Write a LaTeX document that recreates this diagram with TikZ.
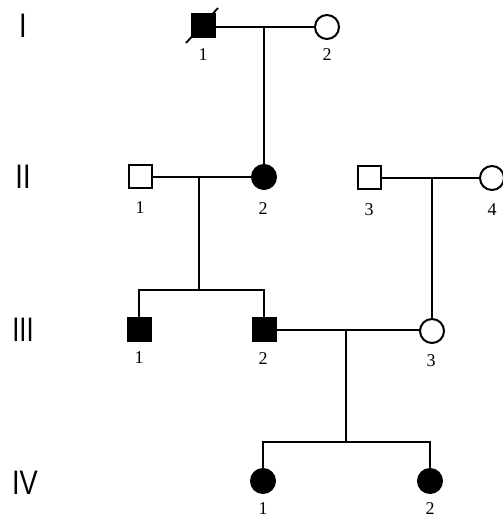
\documentclass[tikz,border=0pt]{standalone}
\usepackage{fontspec}
\setmainfont{Liberation Serif}
\newfontfamily\genfont{Liberation Sans}
\usetikzlibrary{calc}
\begin{document}
\begin{tikzpicture}[x=1pt,y=-1pt,
  male/.style={draw, rectangle, line width=2pt, minimum size=23pt, inner sep=0pt, fill=white},
  female/.style={draw, circle, line width=2pt, minimum size=24pt, inner sep=0pt, fill=white},
  aff/.style={fill=black},
  rel/.style={line width=2.4pt},
  num/.style={font=\fontsize{18}{18}\selectfont, inner sep=0pt},
  gen/.style={font=\genfont\fontsize{34}{34}\selectfont, inner sep=0pt}
]
\useasboundingbox[fill=white] (0,0) rectangle (502,518);

% generation labels
\node[gen] (gI)   at (23,26)  {\scalebox{0.8}[1]{I}};
\node[gen] (gII)  at (23,177) {\scalebox{0.8}[1]{II}};
\node[gen] (gIII) at (23,330) {\scalebox{0.75}[1]{III}};
\node[gen] (gIV)  at (25,483) {\scalebox{0.8}[1]{IV}};

% coordinates for connectors
\coordinate (mI)   at (264,27);
\coordinate (mII)  at (199,177);
\coordinate (sII)  at (199,290);
\coordinate (mIIb) at (432,178);
\coordinate (mIII) at (346,330);
\coordinate (sIII) at (346,442);

% lines (drawn first so symbols cover ends)
\draw[rel] (203,27) -- (327,27);
\draw[rel] (mI) -- (264,177);
\draw[rel] (140,177) -- (264,177);
\draw[rel] (mII) -- (sII);
\draw[rel] (139,329) |- (sII) -| (264,329);
\draw[rel] (369,178) -- (492,178);
\draw[rel] (mIIb) -- (432,331);
\draw[rel] (264,330) -- (432,330);
\draw[rel] (mIII) -- (sIII);
\draw[rel] (263,481) |- (sIII) -| (430,481);

% generation I
\node[male, aff] (I1) at (203,26) {};
\node[female] (I2) at (327,27) {};
\draw[line width=1.8pt] ($(I1)+(-17,17)$) -- ($(I1)+(15,-18)$);
\node[num] (lI1) at (203,55) {1};
\node[num] (lI2) at (327,55) {2};

% generation II
\node[male] (II1) at (140,177) {};
\node[female, aff] (II2) at (264,177) {};
\node[male] (II3) at (369,178) {};
\node[female] (II4) at (492,178) {};
\node[num] (lII1) at (140,208) {1};
\node[num] (lII2) at (263,209) {2};
\node[num] (lII3) at (369,210) {3};
\node[num] (lII4) at (492,210) {4};

% generation III
\node[male, aff] (III1) at (139,329) {};
\node[male, aff] (III2) at (264,329) {};
\node[female] (III3) at (432,331) {};
\node[num] (lIII1) at (139,358) {1};
\node[num] (lIII2) at (263,359) {2};
\node[num] (lIII3) at (431,361) {3};

% generation IV
\node[female, aff] (IV1) at (263,481) {};
\node[female, aff] (IV2) at (430,481) {};
\node[num] (lIV1) at (263,509) {1};
\node[num] (lIV2) at (430,509) {2};
\end{tikzpicture}
\end{document}
